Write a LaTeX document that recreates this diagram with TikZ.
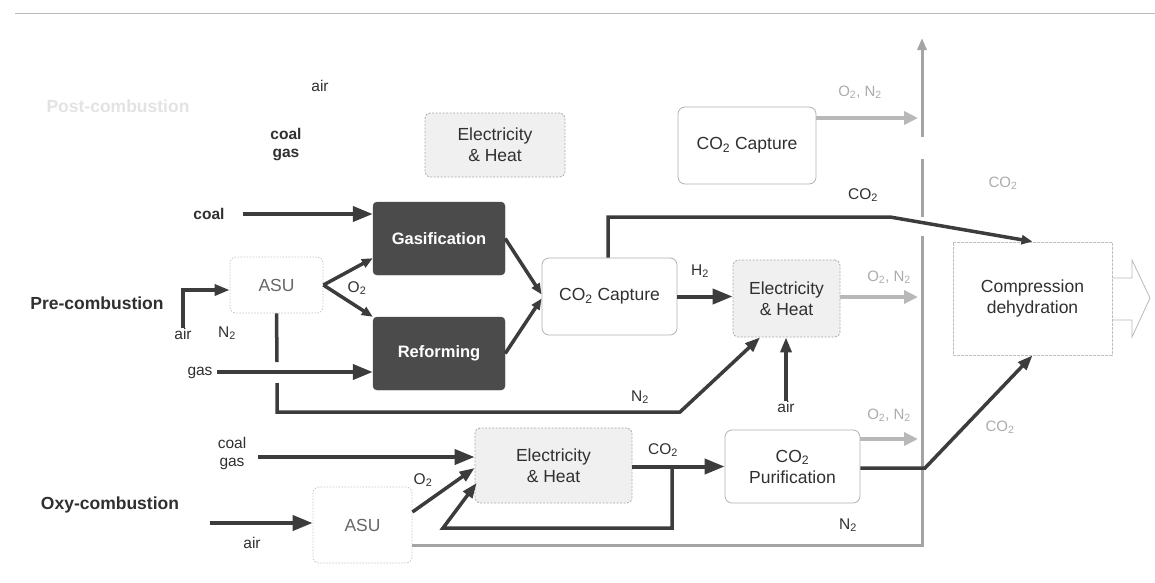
\documentclass[tikz,border=0pt]{standalone}
\usepackage{fontspec}
\setmainfont{Liberation Sans}
\usetikzlibrary{arrows.meta}
\definecolor{ink}{HTML}{3C3C3C}
\definecolor{txt}{HTML}{303030}
\definecolor{darkbox}{HTML}{4B4B4B}
\definecolor{lgray}{HTML}{B8B8B8}
\definecolor{sepc}{HTML}{A4A4A4}
\definecolor{edge}{HTML}{ABABAB}
\definecolor{ehfill}{HTML}{F0F0F0}
\newcommand{\mysub}[1]{\textsubscript{#1}}
\begin{document}
\begin{tikzpicture}[x=1pt, y=-1pt,
  every node/.style={text=txt, font=\fontsize{17.5}{21}\selectfont, inner sep=0pt},
  dbox/.style={rectangle, rounded corners=4pt, fill=darkbox, draw=darkbox, text=white, font=\bfseries\fontsize{16.5}{19}\selectfont},
  ehbox/.style={rectangle, rounded corners=5pt, fill=ehfill, draw=edge, dash pattern=on 2pt off 1.5pt, line width=0.8pt, align=center},
  capbox/.style={rectangle, rounded corners=7pt, fill=white, draw=gray!60, line width=0.8pt, align=center},
  asubox/.style={rectangle, rounded corners=6pt, fill=white, draw=gray!45, dash pattern=on 1.5pt off 1.5pt, line width=0.8pt, text=gray!80!black},
  compbox/.style={rectangle, fill=white, draw=gray!50, dash pattern=on 3pt off 1pt, line width=0.8pt, align=center},
  lbl/.style={font=\fontsize{15.5}{18}\selectfont, align=center},
  blbl/.style={font=\bfseries\fontsize{15.5}{18}\selectfont, align=center},
  rowtitle/.style={font=\bfseries\fontsize{17.5}{20}\selectfont},
  glbl/.style={font=\fontsize{15}{18}\selectfont, text=gray!65},
  flow/.style={draw=ink, line width=4pt, line join=miter, -{Triangle[length=20pt,width=15pt]}},
  flowm/.style={draw=ink, line width=3.5pt, line join=miter, -{Triangle[length=15pt,width=11pt]}},
  flows/.style={draw=ink, line width=3.5pt, line join=miter, -{Triangle[length=11pt,width=9pt]}},
  plainline/.style={draw=ink, line width=3.5pt, line join=miter},
  gflow/.style={draw=lgray, line width=4pt, -{Triangle[length=14pt,width=13pt]}},
  sepline/.style={draw=sepc, line width=3pt, line join=miter},
]
\useasboundingbox (0,0) rectangle (1155,582);
\fill[white] (0,0) rectangle (1155,582);
\draw[gray!55, line width=1pt] (15,13) -- (1155,13);

% ---------- boxes ----------
\node[ehbox, minimum width=140pt, minimum height=64pt] (eh1) at (495,145) {Electricity\\\& Heat};
\node[capbox, minimum width=138pt, minimum height=77pt] (cap1) at (747,145.5) {CO\mysub{2} Capture};
\node[dbox, minimum width=132pt, minimum height=73pt] (gasif) at (439,238.5) {Gasification};
\node[dbox, minimum width=132pt, minimum height=73pt] (ref) at (439,353.5) {Reforming};
\node[asubox, minimum width=93pt, minimum height=56pt] (asu1) at (276.5,285) {ASU};
\node[capbox, minimum width=135pt, minimum height=77pt] (cap2) at (609.5,296.5) {CO\mysub{2} Capture};
\node[ehbox, minimum width=107pt, minimum height=77pt] (eh2) at (786.5,298.5) {Electricity\\\& Heat};
\node[compbox, minimum width=159pt, minimum height=113pt] (comp) at (1032.5,298.5) {Compression\\dehydration};
\node[ehbox, minimum width=157pt, minimum height=75pt] (eh3) at (553.5,465.5) {Electricity\\\& Heat};
\node[asubox, minimum width=99pt, minimum height=76pt] (asu2) at (362.5,525) {ASU};
\node[capbox, minimum width=135pt, minimum height=73pt] (pur) at (792.5,466.5) {CO\mysub{2}\\Purification};

% ---------- texts ----------
\node[rowtitle, text=gray!22] (posttitle) at (118,106) {Post-combustion};
\node[rowtitle] (pretitle) at (97,303) {Pre-combustion};
\node[rowtitle] (oxytitle) at (110,505) {Oxy-combustion};
\node[lbl] (airtop) at (320,86) {air};
\node[blbl] (coaltop) at (286,145) {coal\\gas};
\node[blbl] (coal2) at (209,214) {coal};
\node[lbl] (gas2) at (200,373) {gas};
\node[lbl] (air1lbl) at (183,334) {air};
\node[lbl] (n2lbl1) at (227,333) {N\mysub{2}};
\node[lbl] (o2lbl1) at (357,288) {O\mysub{2}};
\node[lbl] (co2lbl1) at (863,195) {CO\mysub{2}};
\node[lbl] (h2lbl) at (700,271) {H\mysub{2}};
\node[glbl] (on1) at (860,92) {O\mysub{2}, N\mysub{2}};
\node[glbl] (on2) at (889,277) {O\mysub{2}, N\mysub{2}};
\node[glbl] (on3) at (889,415) {O\mysub{2}, N\mysub{2}};
\node[glbl] (co2g1) at (1003,183) {CO\mysub{2}};
\node[glbl] (co2g2) at (1000,427) {CO\mysub{2}};
\node[lbl] (n2lbl2) at (640,397) {N\mysub{2}};
\node[lbl] (air2lbl) at (786,407) {air};
\node[lbl] (coalgas3) at (232,453) {coal\\gas};
\node[lbl] (air3lbl) at (252,543) {air};
\node[lbl] (o2lbl3) at (423,480) {O\mysub{2}};
\node[lbl] (co2lbl3) at (663,450) {CO\mysub{2}};
\node[lbl] (n2lbl4) at (848,525) {N\mysub{2}};

% ---------- coordinates ----------
\coordinate (sepTop) at (922,38);
\coordinate (sepBot) at (922,545);
\coordinate (sepA) at (922,236);
\coordinate (sepB) at (922,217);
\coordinate (sepC) at (922,159);
\coordinate (sepD) at (922,137);
\coordinate (g1) at (918,118);
\coordinate (g2) at (918,297);
\coordinate (g3) at (918,439);
\coordinate (coalS) at (243,214);
\coordinate (gasS) at (217,372);
\coordinate (air1b) at (183,290);
\coordinate (n2g1) at (277,362);
\coordinate (n2g2) at (277,383);
\coordinate (n2a) at (277,412);
\coordinate (n2b) at (680,412);
\coordinate (co2a) at (608,217);
\coordinate (co2b) at (890,217);
\coordinate (cg3) at (258,457);
\coordinate (air3s) at (210,523);
\coordinate (lp1) at (672,467);
\coordinate (lp2) at (672,528);
\coordinate (lp3) at (443,528);
\coordinate (pc) at (925,468);

% ---------- separator ----------
\draw[sepline] (asu2.east |- sepBot) -- (sepBot) -- (sepA);
\draw[sepline] (sepB) -- (sepC);
\draw[sepline, -{Triangle[length=12pt,width=9pt]}] (sepD) -- (sepTop);

% ---------- connectors ----------
\draw[gflow] ([yshift=27.5pt]cap1.east) -- (g1);
\draw[flow] (coalS) -- (gasif.west |- coalS);
\draw[flowm] (air1lbl.north) -- (air1b) -- (asu1.west |- air1b);
\draw[flows] (asu1.east) -- ([yshift=17pt]gasif.south west);
\draw[flows] (asu1.east) -- (ref.north west);
\draw[plainline] (asu1.south) -- (n2g1);
\draw[flowm] (n2g2) -- (n2a) -- (n2b) -- ([xshift=-26.5pt]eh2.south);
\draw[flow] (gasS) -- (ref.west |- gasS);
\draw[flows] (gasif.east) -- ([yshift=2pt]cap2.west);
\draw[flows] (ref.east) -- ([yshift=-2pt]cap2.west);
\draw[flows] (cap2.north -| co2a) -- (co2a) -- (co2b) -- (comp.north);
\draw[flow] (cap2.east) -- (eh2.west |- cap2.east);
\draw[gflow] (eh2.east |- g2) -- (g2);
\draw[flowm] (air2lbl.north) -- (eh2.south -| air2lbl);
\draw[flow] (cg3) -- (eh3.west |- cg3);
\draw[flow] (air3s) -- (asu2.west |- air3s);
\draw[flowm] ([yshift=13pt]asu2.east) -- ([yshift=-2.5pt]eh3.west);
\draw[flow] (eh3.east |- pur.west) -- (pur.west);
\draw[flowm] (lp1) -- (lp2) -- (lp3) -- ([xshift=2pt,yshift=-17.5pt]eh3.west);
\draw[gflow] (pur.east |- g3) -- (g3);
\draw[flowm] (pur.east |- pc) -- (pc) -- (comp.south);

% ---------- outline output arrow ----------
\draw[gray!55, line width=0.8pt, line join=miter]
  (comp.east |- 0,278) -- (1132,278) -- (1132,260) -- (1150,298) -- (1132,337) -- (1132,320) -- (comp.east |- 0,320);
\end{tikzpicture}
\end{document}
